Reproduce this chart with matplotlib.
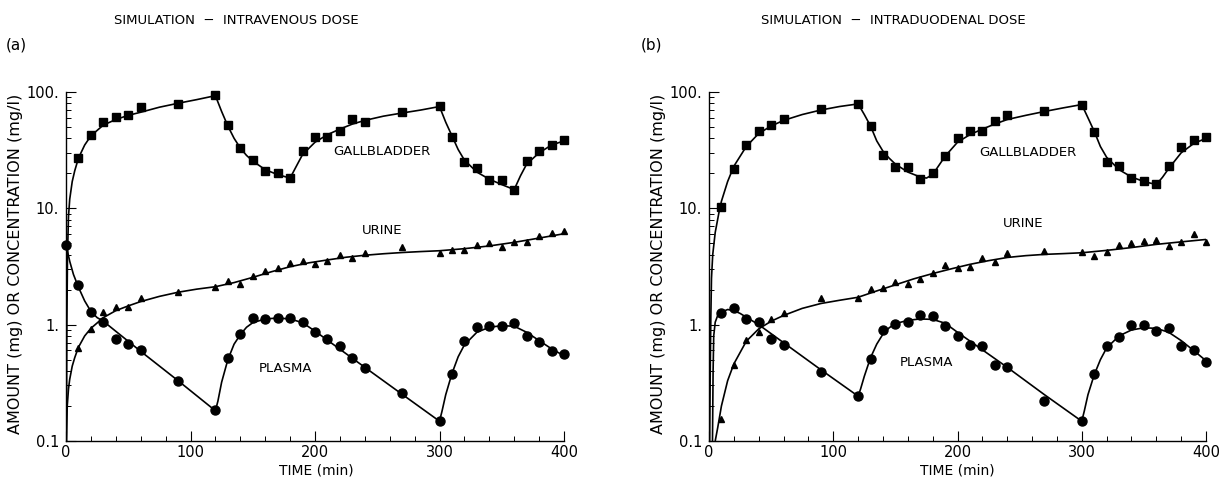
import matplotlib
matplotlib.use("Agg")
import matplotlib.pyplot as plt
from matplotlib.ticker import MultipleLocator, LogLocator, NullFormatter

# ---------------- data: panel (a) intravenous ----------------
a_gb_t = [10, 20, 30, 40, 50, 60, 90, 120, 130, 140, 150, 160, 170, 180, 190, 200, 210, 220,
          230, 240, 270, 300, 310, 320, 330, 340, 350, 360, 370, 380, 390, 400]
a_gb_v = [27, 43, 55, 61, 63, 74, 79, 94, 52, 33, 26, 21, 20, 18.2, 31, 41, 41, 46,
          59, 55, 67, 76, 41, 25, 22, 17.5, 17.5, 14.4, 25.5, 31, 35, 39]

a_ur_t = [10, 20, 30, 40, 50, 60, 90, 120, 130, 140, 150, 160, 170, 180, 190, 200, 210, 220,
          230, 240, 270, 300, 310, 320, 330, 340, 350, 360, 370, 380, 390, 400]
a_ur_v = [0.63, 0.91, 1.29, 1.41, 1.43, 1.69, 1.92, 2.12, 2.35, 2.24, 2.64, 2.91, 3.05, 3.37,
          3.55, 3.32, 3.55, 3.97, 3.74, 4.1, 4.68, 4.1, 4.39, 4.35, 4.84, 5.07, 4.68, 5.1,
          5.17, 5.78, 6.18, 6.38]

a_pl_t = [0, 10, 20, 30, 40, 50, 60, 90, 120, 130, 140, 150, 160, 170, 180, 190, 200, 210,
          220, 230, 240, 270, 300, 310, 320, 330, 340, 350, 360, 370, 380, 390, 400]
a_pl_v = [4.8, 2.2, 1.28, 1.05, 0.75, 0.68, 0.60, 0.33, 0.185, 0.52, 0.83, 1.13, 1.12, 1.15,
          1.13, 1.06, 0.87, 0.76, 0.65, 0.52, 0.42, 0.26, 0.149, 0.38, 0.72, 0.96, 0.97,
          0.97, 1.03, 0.80, 0.71, 0.59, 0.56]

# model curves (a)
a_gbc_t = [0.3, 0.7, 1.2, 2, 3, 5, 7, 10, 15, 20, 30, 40, 50, 60, 75, 90, 105, 120, 125, 130,
           135, 140, 145, 150, 160, 170, 180, 185, 190, 200, 210, 220, 230, 240, 255, 270,
           285, 300, 305, 310, 315, 320, 330, 340, 350, 360, 365, 370, 380, 390, 400]
a_gbc_v = [0.1, 1.0, 4.0, 8.5, 12, 17, 21, 27, 35, 42, 52, 58, 63, 67, 74, 80, 86, 93, 68, 51,
           40, 33, 28.5, 25.5, 21.5, 19.5, 18.2, 23, 29, 37, 43, 48, 53, 57, 62, 66,
           70, 75, 55, 42, 32, 26, 20.5, 17.8, 16, 14.5, 19, 24, 30, 35, 38]

a_urc_t = [0.3, 1, 2, 3, 5, 7, 10, 15, 20, 30, 40, 50, 60, 75, 90, 105, 120, 135, 150, 165,
           180, 195, 210, 225, 240, 255, 270, 285, 300, 320, 340, 360, 380, 400]
a_urc_v = [0.1, 0.2, 0.28, 0.34, 0.44, 0.52, 0.64, 0.8, 0.93, 1.15, 1.32, 1.45, 1.58, 1.75,
           1.9, 2.02, 2.12, 2.3, 2.55, 2.85, 3.15, 3.4, 3.6, 3.8, 3.95, 4.07, 4.17, 4.25,
           4.32, 4.5, 4.75, 5.1, 5.55, 6.05]

a_plc_t = [0, 3, 6, 10, 15, 20, 25, 30, 60, 90, 120, 122, 125, 130, 135, 140, 145, 150, 160,
           170, 180, 190, 200, 240, 270, 300, 302, 305, 310, 315, 320, 330, 340, 350, 360,
           370, 380, 390, 400]
a_plc_v = [4.9, 3.5, 2.7, 2.1, 1.6, 1.3, 1.15, 1.07, 0.59, 0.33, 0.182, 0.22, 0.32, 0.5, 0.68,
           0.82, 0.95, 1.04, 1.12, 1.14, 1.12, 1.04, 0.88, 0.43, 0.252, 0.148, 0.18, 0.25,
           0.38, 0.53, 0.67, 0.86, 0.95, 0.98, 0.97, 0.86, 0.73, 0.62, 0.54]

# ---------------- data: panel (b) intraduodenal ----------------
b_gb_t = [10, 20, 30, 40, 50, 60, 90, 120, 130, 140, 150, 160, 170, 180, 190, 200, 210, 220,
          230, 240, 270, 300, 310, 320, 330, 340, 350, 360, 370, 380, 390, 400]
b_gb_v = [10.3, 21.8, 35, 46, 52, 59, 71, 79, 51, 29, 22.5, 22.5, 17.8, 20, 28, 40, 46, 46,
          56, 63, 69, 78, 45, 25, 23, 18.3, 17.2, 16.2, 23, 33.5, 39, 41]

b_ur_t = [10, 20, 30, 40, 50, 60, 90, 120, 130, 140, 150, 160, 170, 180, 190, 200, 210, 220,
          230, 240, 270, 300, 310, 320, 330, 340, 350, 360, 370, 380, 390, 400]
b_ur_v = [0.154, 0.45, 0.74, 0.87, 1.12, 1.25, 1.69, 1.69, 2.01, 2.06, 2.34, 2.24, 2.45, 2.76,
          3.26, 3.07, 3.15, 3.72, 3.47, 4.16, 4.3, 4.25, 3.89, 4.25, 4.84, 5.0, 5.27, 5.3,
          4.75, 5.17, 6.0, 5.17]

b_pl_t = [10, 20, 30, 40, 50, 60, 90, 120, 130, 140, 150, 160, 170, 180, 190, 200, 210, 220,
          230, 240, 270, 300, 310, 320, 330, 340, 350, 360, 370, 380, 390, 400]
b_pl_v = [1.27, 1.38, 1.12, 1.05, 0.76, 0.67, 0.39, 0.245, 0.51, 0.90, 1.01, 1.06, 1.21, 1.19,
          0.975, 0.80, 0.67, 0.66, 0.45, 0.435, 0.22, 0.15, 0.377, 0.66, 0.78, 0.99, 0.99,
          0.89, 0.93, 0.66, 0.605, 0.48]

# model curves (b)
b_gbc_t = [0.5, 1, 1.5, 2, 3, 5, 8, 10, 15, 20, 30, 40, 50, 60, 75, 90, 105, 120, 125, 130,
           135, 140, 145, 150, 160, 170, 175, 180, 190, 200, 210, 220, 230, 240, 255, 270,
           285, 300, 305, 310, 315, 320, 330, 340, 350, 360, 365, 370, 380, 390, 400]
b_gbc_v = [0.1, 0.4, 1.2, 2.5, 4, 6.2, 9.2, 11.5, 17, 23, 34, 44, 51, 57, 64, 70, 75, 79, 64,
           51, 38, 31, 27, 24, 20.5, 18.6, 18.2, 19.5, 28, 37, 43, 48, 53, 58, 63, 68,
           73, 78, 60, 46, 34, 27.5, 21.5, 18.6, 17, 16, 18.5, 22, 30, 36, 40]

b_urc_t = [5, 7, 10, 15, 20, 30, 40, 50, 60, 75, 90, 105, 120, 135, 150, 165, 180, 195, 210,
           225, 240, 255, 270, 285, 300, 320, 340, 360, 380, 400]
b_urc_v = [0.1, 0.13, 0.2, 0.33, 0.46, 0.72, 0.92, 1.07, 1.2, 1.38, 1.52, 1.62, 1.72, 1.95,
           2.2, 2.48, 2.75, 3.02, 3.3, 3.55, 3.78, 3.92, 4.02, 4.08, 4.15, 4.35, 4.6, 4.9,
           5.15, 5.4]

b_plc_t = [2.8, 3.3, 3.8, 5, 7, 10, 15, 20, 25, 30, 40, 60, 90, 120, 122, 125, 130, 135, 140,
           145, 150, 160, 170, 180, 190, 200, 240, 270, 300, 302, 305, 310, 315, 320, 330,
           340, 350, 360, 370, 380, 390, 400]
b_plc_v = [0.1, 0.4, 0.8, 1.05, 1.2, 1.28, 1.35, 1.32, 1.25, 1.16, 1.0, 0.70, 0.41, 0.243,
           0.28, 0.36, 0.52, 0.68, 0.83, 0.94, 1.02, 1.09, 1.12, 1.11, 1.03, 0.86, 0.43,
           0.25, 0.148, 0.18, 0.25, 0.37, 0.5, 0.63, 0.8, 0.9, 0.94, 0.93, 0.86, 0.73,
           0.6, 0.49]

y_ticks = [0.1, 1, 10, 100]
y_tick_labels = ["0.1", "1.", "10.", "100."]
x_ticks = [0, 100, 200, 300, 400]

plt.rcParams['font.family'] = ['DejaVu Sans']

fig = plt.figure(figsize=(12.2, 4.83), dpi=100)
W, H = 1220.0, 483.0

panels = [
    dict(rect=[66 / W, 42 / H, 498 / W, 349 / H],
         gb=(a_gb_t, a_gb_v), ur=(a_ur_t, a_ur_v), pl=(a_pl_t, a_pl_v),
         gbc=(a_gbc_t, a_gbc_v), urc=(a_urc_t, a_urc_v), plc=(a_plc_t, a_plc_v),
         lab_gb=(254, 30.5), lab_ur=(254, 6.5), lab_pl=(176, 0.42),
         title="SIMULATION  \u2212  INTRAVENOUS DOSE", title_x=236, tag="(a)", tag_x=6,
         ylab_x=16, xlab_x=316),
    dict(rect=[709 / W, 42 / H, 497 / W, 349 / H],
         gb=(b_gb_t, b_gb_v), ur=(b_ur_t, b_ur_v), pl=(b_pl_t, b_pl_v),
         gbc=(b_gbc_t, b_gbc_v), urc=(b_urc_t, b_urc_v), plc=(b_plc_t, b_plc_v),
         lab_gb=(257, 30), lab_ur=(253, 7.4), lab_pl=(175, 0.47),
         title="SIMULATION  \u2212  INTRADUODENAL DOSE", title_x=893, tag="(b)", tag_x=641,
         ylab_x=659, xlab_x=957),
]

for p in panels:
    ax = fig.add_axes(p["rect"])
    ax.set_yscale("log")
    ax.set_xlim(0, 400)
    ax.set_ylim(0.1, 100)
    for k in ("gbc", "urc", "plc"):
        t, v = p[k]
        ax.plot(t, v, color="black", lw=1.2, solid_capstyle="butt")
    t, v = p["gb"]
    ax.plot(t, v, ls="none", marker="s", ms=6, color="black", clip_on=False)
    t, v = p["ur"]
    ax.plot(t, v, ls="none", marker="^", ms=5, color="black", clip_on=False)
    t, v = p["pl"]
    ax.plot(t, v, ls="none", marker="o", ms=6.5, color="black", clip_on=False)

    ax.text(*p["lab_gb"], "GALLBLADDER", ha="center", va="center", fontsize=9.5)
    ax.text(*p["lab_ur"], "URINE", ha="center", va="center", fontsize=9.5)
    ax.text(*p["lab_pl"], "PLASMA", ha="center", va="center", fontsize=9.5)

    for s in ("top", "right"):
        ax.spines[s].set_visible(False)
    for s in ("left", "bottom"):
        ax.spines[s].set_linewidth(1.0)

    ax.set_xticks(x_ticks)
    ax.set_xticklabels([str(x) for x in x_ticks])
    ax.xaxis.set_minor_locator(MultipleLocator(20))
    ax.set_yticks(y_ticks)
    ax.set_yticklabels(y_tick_labels)
    ax.yaxis.set_minor_locator(LogLocator(base=10, subs=range(2, 10)))
    ax.yaxis.set_minor_formatter(NullFormatter())
    ax.tick_params(which="major", direction="in", length=7, width=0.8, labelsize=10.5)
    ax.tick_params(axis="x", which="major", pad=3)
    ax.tick_params(axis="y", which="major", pad=5)
    ax.tick_params(which="minor", direction="in", length=3.5, width=0.7)

    fig.text(p["title_x"] / W, 1 - 20 / H, p["title"], ha="center", va="center", fontsize=9.5)
    fig.text(p["tag_x"] / W, 1 - 45 / H, p["tag"], ha="left", va="center", fontsize=11)
    fig.text(p["ylab_x"] / W, 1 - 264 / H, "AMOUNT (mg) OR CONCENTRATION (mg/l)",
             rotation=90, ha="center", va="center", fontsize=11.5)
    fig.text(p["xlab_x"] / W, 1 - 470 / H, "TIME (min)", ha="center", va="center",
             fontsize=10)

fig.savefig("out.png", dpi=100)
